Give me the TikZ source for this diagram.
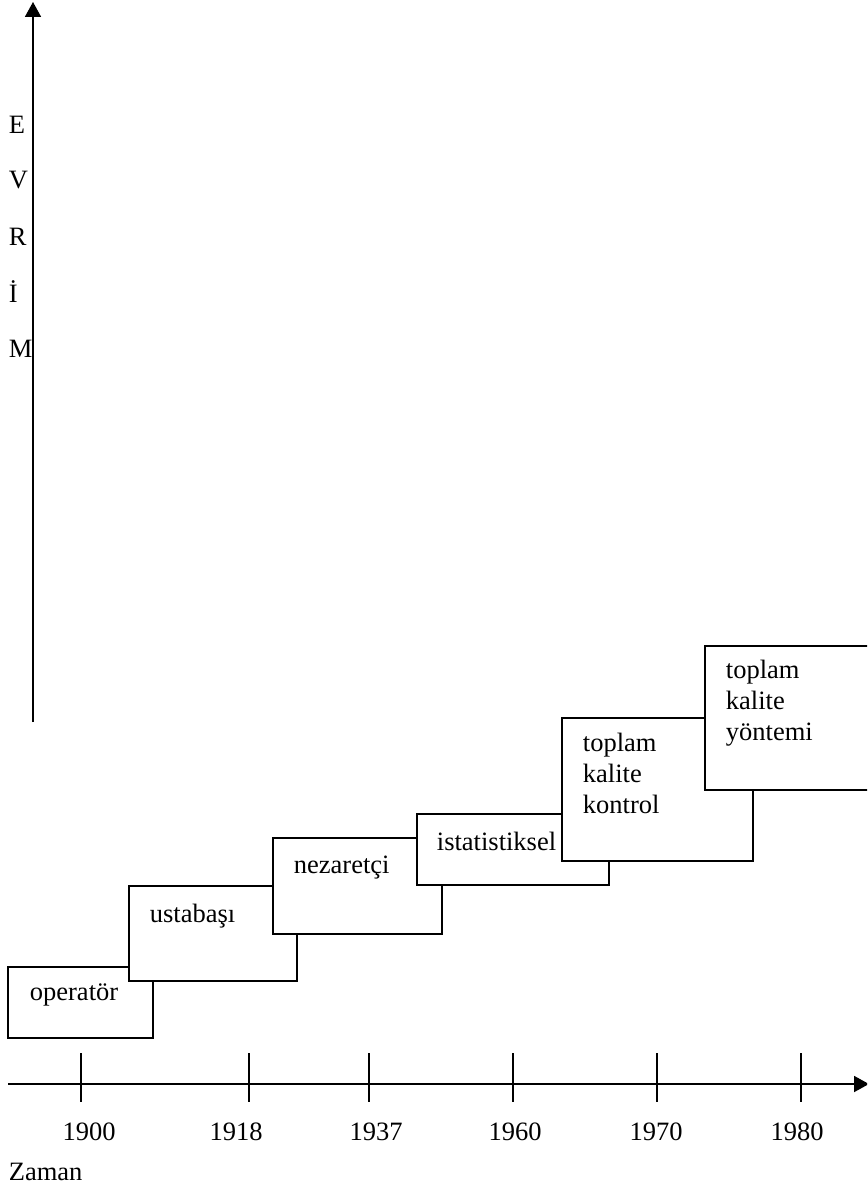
\documentclass[tikz,border=0pt]{standalone}
\usepackage{fontspec}
\setmainfont{Liberation Serif}
\usetikzlibrary{arrows.meta}
\begin{document}
\begin{tikzpicture}[x=1pt,y=-1pt,line width=1.8pt,
  box/.style={draw,fill=white,line width=1.8pt,inner sep=0pt,outer sep=0pt,anchor=north west},
  lbl/.style={anchor=base west,inner sep=0pt,font=\fontsize{26.5}{31}\selectfont,align=left},
  yearlbl/.style={anchor=base,inner sep=0pt,font=\fontsize{26.5}{31}\selectfont},
  axis/.style={line width=1.8pt,-{Triangle[length=15pt,width=16pt]}},
  tick/.style={line width=1.6pt}]
\clip (0,0) rectangle (867,1188);
\fill[white] (0,0) rectangle (867,1188);
% vertical axis
\coordinate (yb) at (33,722);
\coordinate (yt) at (33,2);
\draw[axis] (yb) -- (yt);
\node[lbl] (lE) at (8,133) {E};
\node[lbl] (lV) at (8,188) {V};
\node[lbl] (lR) at (8,245) {R};
\node[lbl] (lI) at (8,302) {İ};
\node[lbl] (lM) at (8,357) {M};
% horizontal axis
\coordinate (xl) at (8,1084);
\coordinate (xr) at (869,1084);
\draw[axis] (xl) -- (xr);
\foreach \tx/\lx/\yr in {81/89/1900,249/236/1918,369/376/1937,513/515/1960,657/656/1970,801/797/1980}{
  \coordinate (ta\yr) at (\tx,1053);
  \coordinate (tb\yr) at (\tx,1102);
  \draw[tick] (ta\yr) -- (tb\yr);
  \node[yearlbl] (y\yr) at (\lx,1140) {\yr};
}
\node[lbl] (zaman) at (8,1180) {Zaman};
% boxes
\node[box,minimum width=145pt,minimum height=71pt] (b1) at (8,967) {};
\node[lbl] (t1) at ([shift={(21,33)}]b1.north west) {operatör};
\node[box,minimum width=168pt,minimum height=95pt] (b2) at (129,886) {};
\node[lbl] (t2) at ([shift={(20,36)}]b2.north west) {ustabaşı};
\node[box,minimum width=169pt,minimum height=96pt] (b3) at (273,838) {};
\node[lbl] (t3) at ([shift={(20,35)}]b3.north west) {nezaretçi};
\node[box,minimum width=192pt,minimum height=71pt] (b4) at (417,814) {};
\node[lbl] (t4) at ([shift={(19,36)}]b4.north west) {istatistiksel};
\node[box,minimum width=191pt,minimum height=143pt] (b5) at (562,718) {};
\node[lbl] (t5) at ([shift={(20,95)}]b5.north west) {toplam\\kalite\\kontrol};
\node[box,minimum width=192pt,minimum height=144pt] (b6) at (705,646) {};
\node[lbl] (t6) at ([shift={(20,94)}]b6.north west) {toplam\\kalite\\yöntemi};
\end{tikzpicture}
\end{document}
